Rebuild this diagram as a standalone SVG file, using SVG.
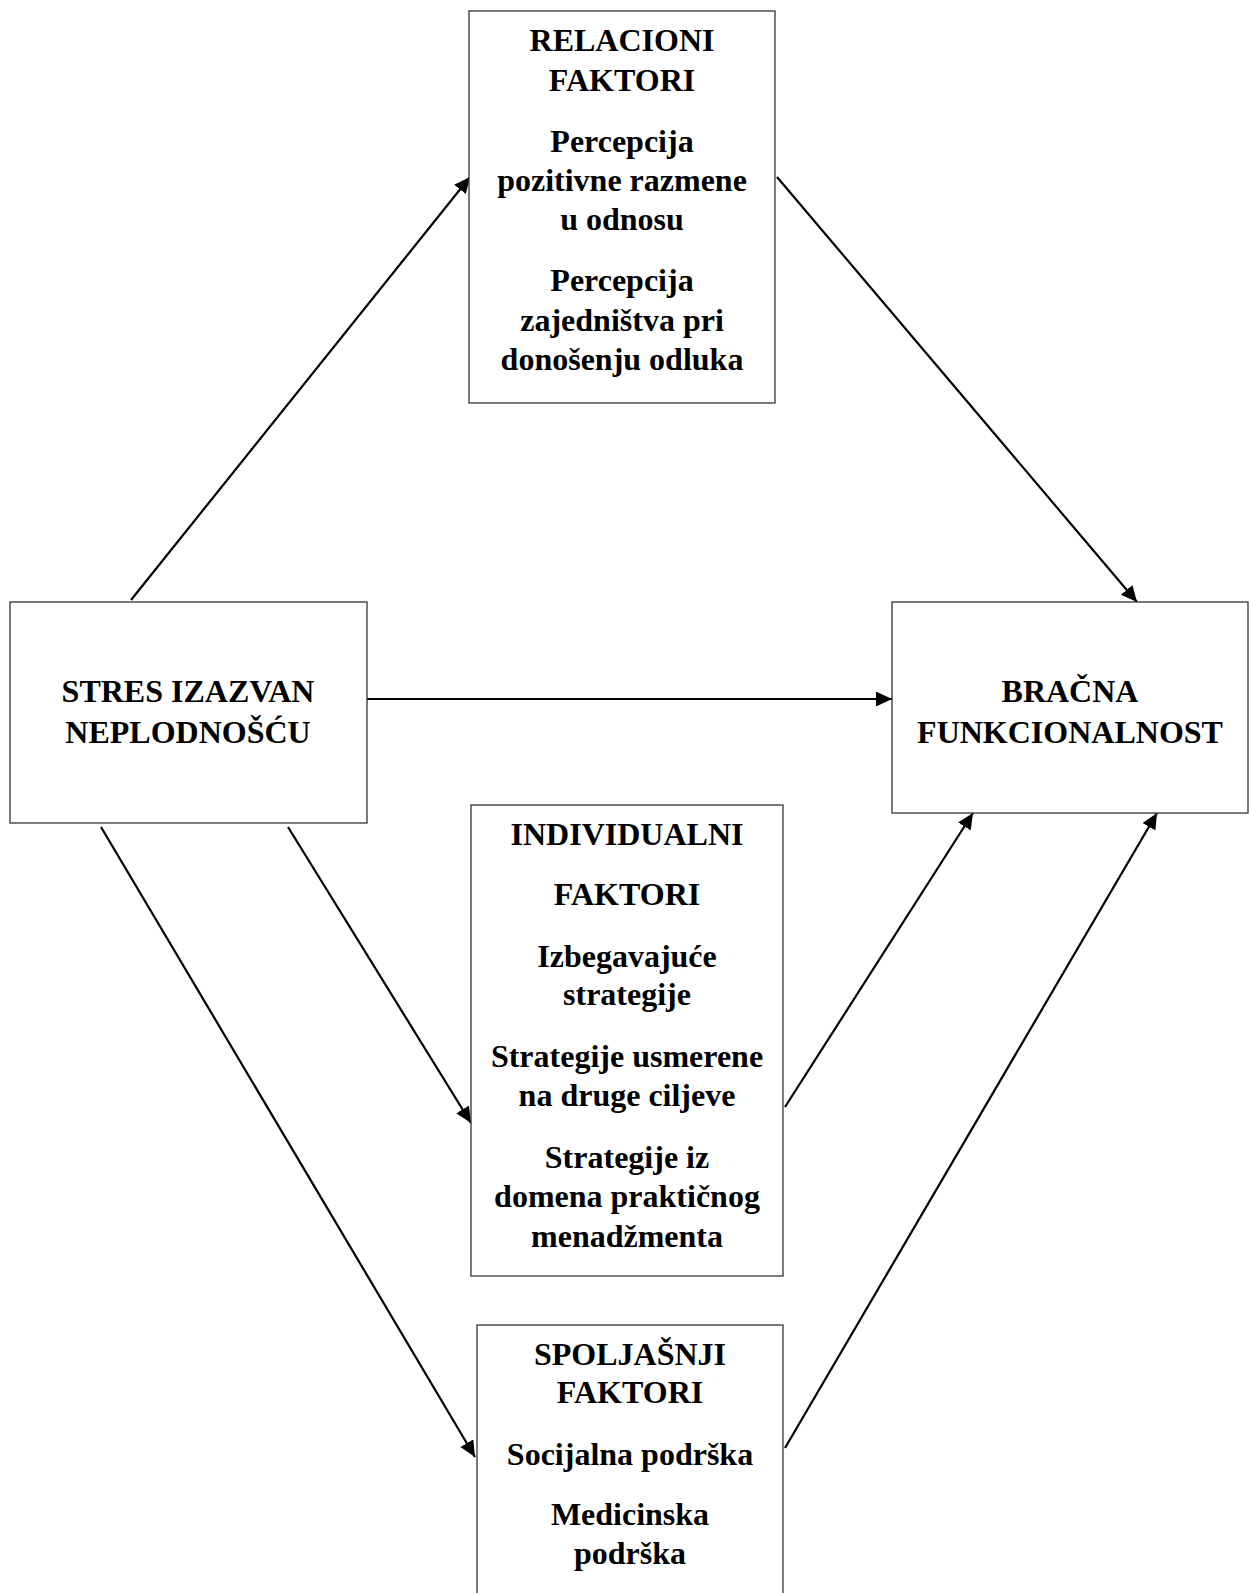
<svg xmlns="http://www.w3.org/2000/svg" width="1249" height="1593" viewBox="0 0 1249 1593">
<style>
.box{fill:#fff;stroke:#333;stroke-width:1.3}
.t{font-family:"Liberation Serif","Times New Roman",serif;font-weight:bold;font-size:32px;fill:#000;text-anchor:middle}
.c{stroke:#000;stroke-width:2.2;fill:none;marker-end:url(#ah)}
</style>
<defs>
<marker id="ah" markerUnits="userSpaceOnUse" markerWidth="18" markerHeight="16" refX="16" refY="7.5" orient="auto">
<path d="M0,0 L16,7.5 L0,15 z" fill="#000"/>
</marker>
</defs>
<rect width="1249" height="1593" fill="#fff"/>
<g id="connectors">
<line class="c" x1="131" y1="600" x2="470" y2="177"/>
<line class="c" x1="777" y1="177" x2="1137" y2="602"/>
<line class="c" x1="367" y1="699" x2="892" y2="699"/>
<line class="c" x1="288" y1="827" x2="471" y2="1123"/>
<line class="c" x1="101" y1="827" x2="475" y2="1457"/>
<line class="c" x1="785" y1="1107" x2="973" y2="813"/>
<line class="c" x1="785" y1="1448" x2="1157" y2="813"/>
</g>
<g id="relacioni">
<rect class="box" x="469" y="11" width="306" height="392"/>
<text class="t" x="622" y="51">RELACIONI</text>
<text class="t" x="622" y="91">FAKTORI</text>
<text class="t" x="622" y="152">Percepcija</text>
<text class="t" x="622" y="191">pozitivne razmene</text>
<text class="t" x="622" y="230">u odnosu</text>
<text class="t" x="622" y="291">Percepcija</text>
<text class="t" x="622" y="331">zajedništva pri</text>
<text class="t" x="622" y="370">donošenju odluka</text>
</g>
<g id="stres">
<rect class="box" x="10" y="602" width="357" height="221"/>
<text class="t" x="188" y="702">STRES IZAZVAN</text>
<text class="t" x="188" y="743">NEPLODNOŠĆU</text>
</g>
<g id="bracna">
<rect class="box" x="892" y="602" width="356" height="211"/>
<text class="t" x="1070" y="702">BRAČNA</text>
<text class="t" x="1070" y="743">FUNKCIONALNOST</text>
</g>
<g id="individualni">
<rect class="box" x="471" y="805" width="312" height="471"/>
<text class="t" x="627" y="845">INDIVIDUALNI</text>
<text class="t" x="627" y="905">FAKTORI</text>
<text class="t" x="627" y="967">Izbegavajuće</text>
<text class="t" x="627" y="1005">strategije</text>
<text class="t" x="627" y="1067">Strategije usmerene</text>
<text class="t" x="627" y="1106">na druge ciljeve</text>
<text class="t" x="627" y="1168">Strategije iz</text>
<text class="t" x="627" y="1207">domena praktičnog</text>
<text class="t" x="627" y="1247">menadžmenta</text>
</g>
<g id="spoljasnji">
<rect class="box" x="477" y="1325" width="306" height="290"/>
<text class="t" x="630" y="1365">SPOLJAŠNJI</text>
<text class="t" x="630" y="1403">FAKTORI</text>
<text class="t" x="630" y="1465">Socijalna podrška</text>
<text class="t" x="630" y="1525">Medicinska</text>
<text class="t" x="630" y="1564">podrška</text>
</g>
</svg>
